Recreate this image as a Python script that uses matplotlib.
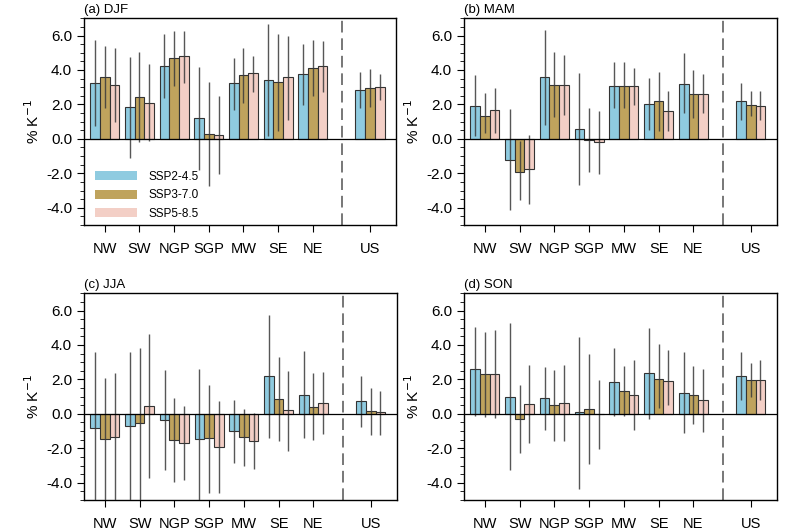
import matplotlib
matplotlib.use('Agg')
import matplotlib.pyplot as plt
from matplotlib.ticker import MultipleLocator
from matplotlib.patches import Patch
import numpy as np

plt.rcParams['font.family'] = ['Liberation Sans', 'DejaVu Sans']

regions = ['NW', 'SW', 'NGP', 'SGP', 'MW', 'SE', 'NE', 'US']
scenarios = ['SSP2-4.5', 'SSP3-7.0', 'SSP5-8.5']
colors = ['#8fcbe0', '#bfa35d', '#f3cfc6']

# bar values, one row per scenario
djf = [[3.27, 1.84, 4.23, 1.22, 3.23, 3.44, 3.75, 2.84],
       [3.60, 2.43, 4.70, 0.31, 3.71, 3.30, 4.12, 2.98],
       [3.11, 2.11, 4.79, 0.23, 3.83, 3.59, 4.23, 3.01]]
djf_hi = [[5.74, 4.77, 6.09, 4.19, 4.71, 6.67, 5.51, 3.88],
          [5.39, 5.04, 6.28, 3.32, 5.26, 6.07, 5.72, 4.06],
          [5.26, 4.33, 6.28, 2.49, 4.83, 5.99, 5.68, 3.75]]
djf_lo = [[0.75, -1.12, 2.36, -1.80, 1.68, 0.19, 1.97, 1.78],
          [1.78, -0.21, 3.07, -2.71, 2.07, 0.48, 2.49, 1.86],
          [0.97, -0.12, 3.27, -2.05, 2.74, 1.10, 2.74, 2.26]]

mam = [[1.92, -1.20, 3.58, 0.58, 3.08, 2.01, 3.21, 2.19],
       [1.34, -1.90, 3.15, -0.08, 3.07, 2.17, 2.59, 1.99],
       [1.68, -1.76, 3.15, -0.20, 3.07, 1.59, 2.59, 1.90]]
mam_hi = [[3.72, 1.74, 6.33, 3.81, 4.45, 3.52, 4.97, 3.27],
          [2.69, -0.15, 5.03, 1.78, 4.45, 3.87, 3.97, 2.80],
          [2.94, 0.23, 4.88, 1.59, 4.10, 2.80, 3.77, 2.75]]
mam_lo = [[0.14, -4.12, 0.81, -2.67, 1.78, 0.52, 1.49, 1.10],
          [0.33, -3.54, 1.26, -1.95, 1.78, 0.43, 1.20, 1.30],
          [0.33, -3.77, 1.39, -2.03, 1.97, 0.43, 1.49, 1.10]]

jja = [[-0.83, -0.72, -0.35, -1.45, -1.00, 2.18, 1.12, 0.72],
       [-1.45, -0.55, -1.50, -1.40, -1.35, 0.85, 0.42, 0.15],
       [-1.35, 0.45, -1.70, -1.90, -1.55, 0.20, 0.65, 0.08]]
jja_hi = [[3.62, 3.58, 2.55, 2.59, 0.81, 5.75, 3.66, 2.21],
          [2.11, 3.81, 0.95, 1.68, 0.27, 3.29, 2.36, 1.53],
          [2.36, 4.64, 0.43, 0.72, 0.04, 2.50, 2.46, 1.35]]
jja_lo = [[-5.6, -5.6, -3.25, -5.6, -2.86, -1.41, -1.41, -0.77],
          [-5.6, -5.6, -3.97, -4.57, -3.02, -1.55, -1.51, -1.22],
          [-5.6, -3.74, -3.83, -4.57, -3.19, -2.13, -1.18, -1.22]]

son = [[2.60, 1.00, 0.90, 0.08, 1.83, 2.37, 1.22, 2.22],
       [2.30, -0.30, 0.52, 0.30, 1.33, 2.05, 1.08, 1.95],
       [2.33, 0.55, 0.62, -0.03, 1.12, 1.88, 0.78, 1.95]]
son_hi = [[5.07, 5.26, 2.75, 4.49, 3.81, 5.01, 3.58, 3.58],
          [4.78, 1.65, 2.55, 3.46, 2.80, 4.06, 2.79, 2.94],
          [4.88, 2.84, 2.84, 1.97, 3.13, 3.68, 2.59, 3.13]]
son_lo = [[-0.15, -3.25, -0.93, -4.35, -0.15, -0.29, -1.12, 0.81],
          [-0.21, -2.28, -1.57, -2.90, -0.10, 0.33, -0.58, 1.00],
          [-0.25, -1.70, -1.57, -2.05, -0.93, 0.52, -1.03, 0.81]]

panels = [('(a) DJF', djf, djf_hi, djf_lo),
          ('(b) MAM', mam, mam_hi, mam_lo),
          ('(c) JJA', jja, jja_hi, jja_lo),
          ('(d) SON', son, son_hi, son_lo)]

x = np.array([0, 1, 2, 3, 4, 5, 6, 7.65])
w = 0.28

fig = plt.figure(figsize=(8, 5.3), dpi=100)
rects = [[0.105, 0.5755, 0.39, 0.39], [0.58, 0.5755, 0.391, 0.39],
         [0.105, 0.0566, 0.391, 0.39], [0.58, 0.0566, 0.391, 0.39]]

for i, (title, vals, hi, lo) in enumerate(panels):
    ax = fig.add_axes(rects[i])
    for k in range(3):
        xs = x + (k - 1) * w
        ax.bar(xs, vals[k], width=w, color=colors[k], edgecolor='#333333',
               linewidth=0.8, zorder=2)
        ax.vlines(xs, lo[k], hi[k], color='#3a3a3a', linewidth=1.0, alpha=0.85, zorder=3)
    ax.axhline(0, color='black', linewidth=0.9, zorder=4)
    ax.axvline(6.85, color='#777777', linewidth=1.4, linestyle=(0, (6, 3)), zorder=1)
    ax.set_xlim(-0.6, 8.4)
    ax.set_ylim(-5, 7)
    ax.set_xticks(x)
    ax.set_xticklabels(regions, fontsize=10.5)
    ax.yaxis.set_minor_locator(MultipleLocator(0.5))
    ax.set_yticks([-4, -2, 0, 2, 4, 6])
    ax.set_yticklabels(['-4.0', '-2.0', '0.0', '2.0', '4.0', '6.0'], fontsize=11)
    ax.tick_params(axis='y', which='major', direction='out', length=5, width=0.8)
    ax.tick_params(axis='y', which='minor', direction='out', length=3, width=0.6)
    ax.tick_params(axis='x', direction='out', length=5, width=0.8, pad=7)
    ax.set_ylabel('% K$^{-1}$', fontsize=11, labelpad=3)
    ax.text(0.0, 1.012, title, transform=ax.transAxes, fontsize=9.5, ha='left', va='bottom')
    for s in ax.spines.values():
        s.set_linewidth(1.0)
    if i == 0:
        handles = [Patch(facecolor=c, edgecolor='none') for c in colors]
        ax.legend(handles, scenarios, loc='lower left', bbox_to_anchor=(0.035, 0.025),
                  frameon=False, fontsize=8.5, handlelength=3.6, handleheight=0.85,
                  handletextpad=0.9, labelspacing=0.55, borderaxespad=0, borderpad=0)

fig.savefig('out.png', dpi=100)
